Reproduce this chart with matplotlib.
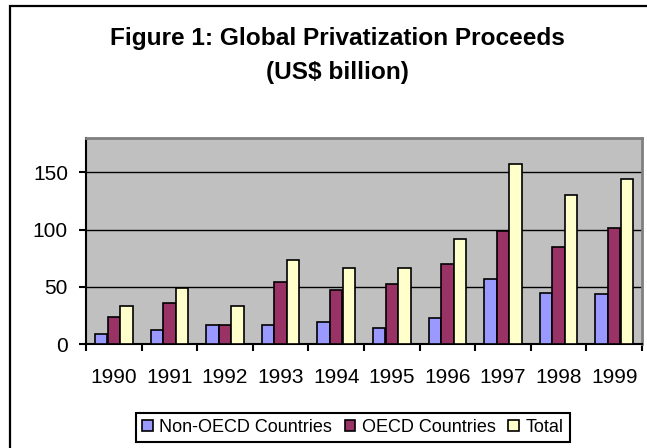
import numpy as np
import matplotlib
matplotlib.use('Agg')
import matplotlib.pyplot as plt
from matplotlib.patches import Rectangle

plt.rcParams['font.family'] = ['Liberation Sans', 'DejaVu Sans']

# data (US$ billion)
years = ['1990', '1991', '1992', '1993', '1994', '1995', '1996', '1997', '1998', '1999']
non_oecd = [8.5, 12, 17, 17, 19, 14, 22.5, 57, 45, 43.5]
oecd = [24, 36, 17, 54, 47, 52, 69.5, 99, 85, 101]
total = [33, 48.5, 33, 73, 66, 66, 92, 157, 130.5, 144.5]

series = [('Non-OECD Countries', non_oecd, '#9999FF'),
          ('OECD Countries', oecd, '#993366'),
          ('Total', total, '#FFFFCC')]

fig = plt.figure(figsize=(6.47, 4.48), dpi=100)
ax = fig.add_axes([86/647, 1-344/448, (642-86)/647, (344-138)/448])
ax.set_facecolor('#C0C0C0')

x = np.arange(len(years))
w = 0.22
for i, (name, vals, col) in enumerate(series):
    ax.bar(x + (i-1)*w*1.03, vals, w, color=col, edgecolor='black', linewidth=1.2,
           label=name, zorder=3)

ax.set_xlim(-0.5, len(years)-0.5)
ax.set_ylim(0, 180)
ax.set_yticks([0, 50, 100, 150])
ax.yaxis.grid(True, color='black', linewidth=1.0, zorder=1)
ax.set_axisbelow(True)

# ticks between categories, labels in the middle
ax.set_xticks(np.arange(len(years)+1) - 0.5)
ax.set_xticklabels([])
ax.set_xticks(x, minor=True)
ax.set_xticklabels(years, minor=True)
ax.tick_params(axis='x', which='major', direction='out', length=5, width=1.5)
ax.tick_params(axis='x', which='minor', length=0, pad=17, labelsize=15)
ax.tick_params(axis='y', direction='out', length=5, width=1.5, pad=8, labelsize=15)

for s in ['left', 'bottom']:
    ax.spines[s].set_color('black')
    ax.spines[s].set_linewidth(1.5)
for s in ['top', 'right']:
    ax.spines[s].set_color('#808080')
    ax.spines[s].set_linewidth(2)

fig.text(0.521, 1-38/448, 'Figure 1: Global Privatization Proceeds',
         ha='center', va='center', fontsize=17.6, fontweight='bold')
fig.text(0.521, 1-73/448, '(US$ billion)',
         ha='center', va='center', fontsize=17.6, fontweight='bold')

leg = fig.legend(loc='center', bbox_to_anchor=(0.545, 0.046), ncol=3, fontsize=13,
                 frameon=True, fancybox=False, edgecolor='black', framealpha=1,
                 handlelength=0.6, handleheight=0.6, handletextpad=0.35,
                 columnspacing=0.7, borderpad=0.35, borderaxespad=0)
leg.get_frame().set_linewidth(1.5)

# outer chart frame (runs off the right and bottom edges)
fig.patches.append(Rectangle((10/647, -0.05), 1.0, 1-6/448+0.05, transform=fig.transFigure,
                             fill=False, edgecolor='black', linewidth=1.6))

fig.savefig('out.png', dpi=100)
